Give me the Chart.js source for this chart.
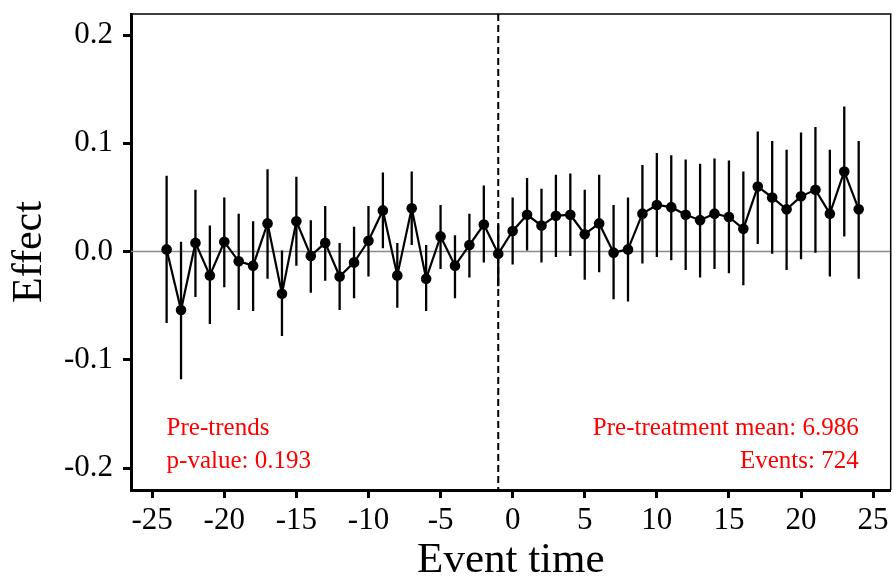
<!DOCTYPE html>
<html>
<head>
<meta charset="utf-8">
<script src="https://cdn.jsdelivr.net/npm/chart.js@4.4.0/dist/chart.umd.min.js"></script>
<style>
    html, body { margin: 0; padding: 0; background: #fff; }
    #event-study { display: block; }
</style>
</head>
<body>
<canvas id="event-study" width="896" height="582"></canvas>
<script>
// event study estimates, one per event time
const eventTime = [-24, -23, -22, -21, -20, -19, -18, -17, -16, -15, -14, -13, -12, -11, -10, -9, -8, -7, -6, -5, -4, -3, -2, -1,
    0, 1, 2, 3, 4, 5, 6, 7, 8, 9, 10, 11, 12, 13, 14, 15, 16, 17, 18, 19, 20, 21, 22, 23, 24]
const effect = [0.002, -0.054, 0.008, -0.022, 0.009, -0.009, -0.013, 0.026, -0.039, 0.028, -0.004, 0.008, -0.023, -0.010, 0.010, 0.038, -0.022, 0.040, -0.025, 0.014, -0.013, 0.006, 0.025, -0.002,
    0.019, 0.034, 0.024, 0.033, 0.034, 0.016, 0.026, -0.001, 0.002, 0.035, 0.043, 0.041, 0.034, 0.029, 0.035, 0.032, 0.021, 0.060, 0.050, 0.039, 0.051, 0.057, 0.035, 0.074, 0.039]
const ciLow = [-0.066, -0.118, -0.042, -0.067, -0.033, -0.054, -0.055, -0.025, -0.078, -0.013, -0.038, -0.027, -0.054, -0.043, -0.023, 0.003, -0.052, 0.006, -0.055, -0.016, -0.043, -0.024, -0.010, -0.032,
    -0.012, 0.001, -0.010, -0.005, -0.004, -0.026, -0.019, -0.044, -0.046, -0.011, -0.005, -0.008, -0.017, -0.024, -0.016, -0.020, -0.031, 0.007, -0.002, -0.017, -0.007, -0.001, -0.023, 0.014, -0.025]
const ciHigh = [0.070, 0.009, 0.057, 0.024, 0.050, 0.035, 0.028, 0.076, 0.001, 0.069, 0.029, 0.042, 0.008, 0.023, 0.042, 0.073, 0.008, 0.074, 0.006, 0.043, 0.015, 0.035, 0.061, 0.025,
    0.050, 0.068, 0.058, 0.071, 0.072, 0.057, 0.071, 0.043, 0.050, 0.080, 0.091, 0.089, 0.085, 0.081, 0.086, 0.084, 0.074, 0.111, 0.102, 0.094, 0.110, 0.115, 0.094, 0.134, 0.102]

const xTicks = [-25, -20, -15, -10, -5, 0, 5, 10, 15, 20, 25]
const yTicks = [-0.2, -0.1, 0, 0.1, 0.2]
const yTickLabels = ["-0.2", "-0.1", "0.0", "0.1", "0.2"]

const treatmentTime = -1
const pretrendText = ["Pre-trends", "p-value: 0.193"]
const summaryText = ["Pre-treatment mean: 6.986", "Events: 724"]

const serif = "'Liberation Serif', 'DejaVu Serif', serif"

// zero line, treatment marker and confidence intervals go under the series
const underlay = {
    id: "underlay",
    beforeDatasetsDraw(chart) {
        const {ctx, chartArea, scales: {x, y}} = chart
        ctx.save()
        ctx.beginPath()
        ctx.rect(chartArea.left, chartArea.top, chartArea.width, chartArea.height)
        ctx.clip()

        ctx.strokeStyle = "#8a8a8a"
        ctx.lineWidth = 1.6
        ctx.beginPath()
        ctx.moveTo(chartArea.left, y.getPixelForValue(0))
        ctx.lineTo(chartArea.right, y.getPixelForValue(0))
        ctx.stroke()

        const vx = x.getPixelForValue(treatmentTime)
        ctx.strokeStyle = "#000"
        ctx.lineWidth = 2
        ctx.setLineDash([7, 4])
        ctx.beginPath()
        ctx.moveTo(vx, chartArea.top)
        ctx.lineTo(vx, chartArea.bottom)
        ctx.stroke()
        ctx.setLineDash([])

        ctx.lineWidth = 2.3
        eventTime.forEach((t, i) => {
            const px = x.getPixelForValue(t)
            ctx.beginPath()
            ctx.moveTo(px, y.getPixelForValue(ciLow[i]))
            ctx.lineTo(px, y.getPixelForValue(ciHigh[i]))
            ctx.stroke()
        })
        ctx.restore()
    },
    afterDraw(chart) {
        const {ctx, chartArea, scales: {x, y}} = chart
        ctx.save()
        // thin frame on top and right
        ctx.strokeStyle = "#000"
        ctx.lineWidth = 1.5
        ctx.beginPath()
        ctx.moveTo(chartArea.left, chartArea.top)
        ctx.lineTo(chartArea.right, chartArea.top)
        ctx.lineTo(chartArea.right, chartArea.bottom)
        ctx.stroke()

        ctx.fillStyle = "#ff0000"
        ctx.font = "25px " + serif
        ctx.textBaseline = "alphabetic"
        const rows = [y.getPixelForValue(-0.1695), y.getPixelForValue(-0.2)]
        ctx.textAlign = "left"
        pretrendText.forEach((s, i) => ctx.fillText(s, x.getPixelForValue(-24), rows[i]))
        ctx.textAlign = "right"
        summaryText.forEach((s, i) => ctx.fillText(s, x.getPixelForValue(24), rows[i]))
        ctx.restore()
    }
}

const eventChart = new Chart(document.getElementById("event-study").getContext("2d"), {
    type: "scatter",
    data: {
        datasets: [{
            data: eventTime.map((t, i) => ({x: t, y: effect[i]})),
            showLine: true,
            borderColor: "#000",
            borderWidth: 2.2,
            backgroundColor: "#000",
            pointRadius: 5.3,
            pointBorderWidth: 0,
            tension: 0,
        }],
    },
    options: {
        responsive: false,
        animation: false,
        layout: {padding: {top: 14, right: 3, left: 0, bottom: 0}},
        plugins: {legend: {display: false}, tooltip: {enabled: false}},
        scales: {
            x: {
                type: "linear",
                min: -26.47,
                max: 26.22,
                afterBuildTicks: (scale) => { scale.ticks = xTicks.map(v => ({value: v})) },
                afterFit: (scale) => {
                    scale.height = 92
                    scale.paddingLeft = 0
                    scale.paddingRight = 0
                },
                grid: {drawOnChartArea: false, drawTicks: true, tickLength: 8, tickWidth: 3, tickColor: "#000"},
                border: {display: true, color: "#000", width: 3},
                ticks: {color: "#000", padding: 4, maxRotation: 0, autoSkip: false, font: {family: serif, size: 31}},
                title: {display: true, text: "Event time", color: "#000", padding: {top: 0, bottom: 0},
                    font: {family: serif, size: 43, lineHeight: 1}},
            },
            y: {
                min: -0.2202,
                max: 0.2194,
                afterBuildTicks: (scale) => { scale.ticks = yTicks.map(v => ({value: v})) },
                afterFit: (scale) => {
                    scale.width = 131
                    scale.paddingTop = 0
                    scale.paddingBottom = 0
                },
                grid: {drawOnChartArea: false, drawTicks: true, tickLength: 8, tickWidth: 3, tickColor: "#000"},
                border: {display: true, color: "#000", width: 3},
                ticks: {
                    color: "#000", padding: 10, font: {family: serif, size: 31},
                    callback: (v) => yTickLabels[yTicks.indexOf(v)],
                },
                title: {display: true, text: "Effect", color: "#000", padding: {top: 9, bottom: 0},
                    font: {family: serif, size: 42, lineHeight: 1}},
            },
        },
    },
    plugins: [underlay],
})
</script>
</body>
</html>
